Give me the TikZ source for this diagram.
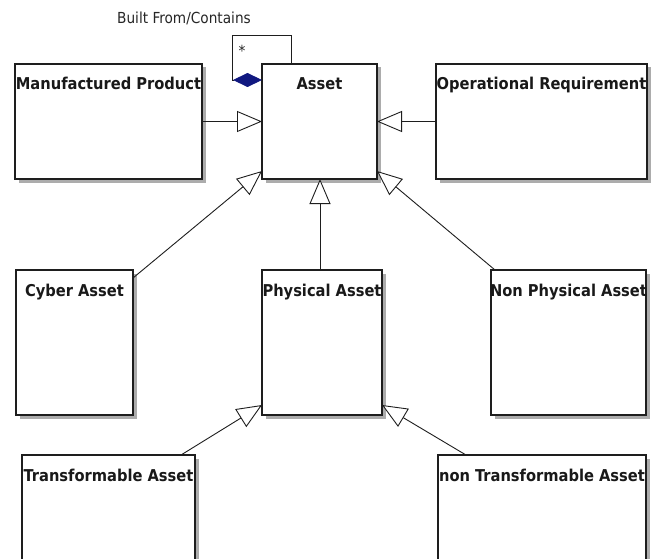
\documentclass[tikz,border=0pt]{standalone}
\usepackage{fontspec}
\setmainfont{DejaVu Sans Condensed}
\usetikzlibrary{arrows.meta,shadows}
\definecolor{diamondblue}{RGB}{16,24,128}
\definecolor{boxline}{RGB}{30,30,30}
\tikzset{
  classbox/.style={draw=boxline, line width=1.1pt, fill=white, inner sep=0pt, outer sep=0pt,
    drop shadow={shadow xshift=3.5pt, shadow yshift=-3.5pt, fill=gray!65, opacity=1}},
  classname/.style={font=\bfseries\fontsize{16.3}{18}\selectfont, anchor=base, inner sep=0pt, text=black!90},
  generalization/.style={draw=boxline, line width=0.9pt,
    -{Triangle[open, length=25pt, width=21pt, fill=white, line width=0.9pt]}},
  composition/.style={draw=boxline, line width=0.9pt,
    -{Diamond[length=29pt, width=14pt, fill=diamondblue, color=diamondblue]}},
  note/.style={font=\fontsize{15.2}{17}\selectfont, inner sep=0pt, text=black!85}
}
\begin{document}
\begin{tikzpicture}[x=1pt, y=-1pt]
  \useasboundingbox (0,0) rectangle (653,559);
  \clip (0,0) rectangle (653,559);
  \fill[white] (0,0) rectangle (653,559);

  % class boxes
  \node[classbox, minimum width=187pt, minimum height=115pt] (mp)    at (108.5,121.5) {};
  \node[classbox, minimum width=115pt, minimum height=115pt] (asset) at (319.5,121.5) {};
  \node[classbox, minimum width=211pt, minimum height=115pt] (opreq) at (541.5,121.5) {};
  \node[classbox, minimum width=117pt, minimum height=145pt] (cyber) at (74.5,342.5) {};
  \node[classbox, minimum width=120pt, minimum height=145pt] (phys)  at (322,342.5) {};
  \node[classbox, minimum width=155pt, minimum height=145pt] (nonph) at (568.5,342.5) {};
  \node[classbox, minimum width=173pt, minimum height=125pt] (trans) at (108.5,517.5) {};
  \node[classbox, minimum width=208pt, minimum height=125pt] (ntran) at (542,517.5) {};

  % class names
  \node[classname] (mpl)    at ([yshift=-26pt]mp.north)    {Manufactured Product};
  \node[classname] (assetl) at ([yshift=-26pt]asset.north) {Asset};
  \node[classname] (opreql) at ([yshift=-26pt]opreq.north) {Operational Requirement};
  \node[classname] (cyberl) at ([yshift=-26pt]cyber.north) {Cyber Asset};
  \node[classname] (physl)  at ([yshift=-26pt]phys.north)  {Physical Asset};
  \node[classname] (nonphl) at ([yshift=-26pt]nonph.north) {Non Physical Asset};
  \node[classname] (transl) at ([yshift=-26pt]trans.north) {Transformable Asset};
  \node[classname] (ntranl) at ([yshift=-26pt]ntran.north) {non Transformable Asset};

  % generalizations
  \draw[generalization] (mp.east) -- (asset.west);
  \draw[generalization] (opreq.west) -- (asset.east);
  \draw[generalization] ([yshift=-8pt]cyber.north east) -- ([yshift=8pt]asset.south west);
  \draw[generalization] ([xshift=-2pt]phys.north) -- ([xshift=-2pt]phys.north |- asset.south);
  \draw[generalization] ([xshift=4pt]nonph.north west) -- ([yshift=8pt]asset.south east);
  \draw[generalization] ([xshift=-14pt]trans.north east) -- ([yshift=10pt]phys.south west);
  \draw[generalization] ([xshift=28pt]ntran.north west) -- ([yshift=10pt]phys.south east);

  % self composition: Built From/Contains
  \coordinate (selfa) at (232,35);
  \coordinate (selfb) at (232,80);
  \draw[composition] ([xshift=-28.5pt]asset.north) |- (selfa) -- (selfb) -- (selfb -| asset.west);
  \node[note] (mult) at (242,51) {*};
  \node[note, anchor=base west] (assoc) at (117,24) {Built From/Contains};
\end{tikzpicture}
\end{document}
